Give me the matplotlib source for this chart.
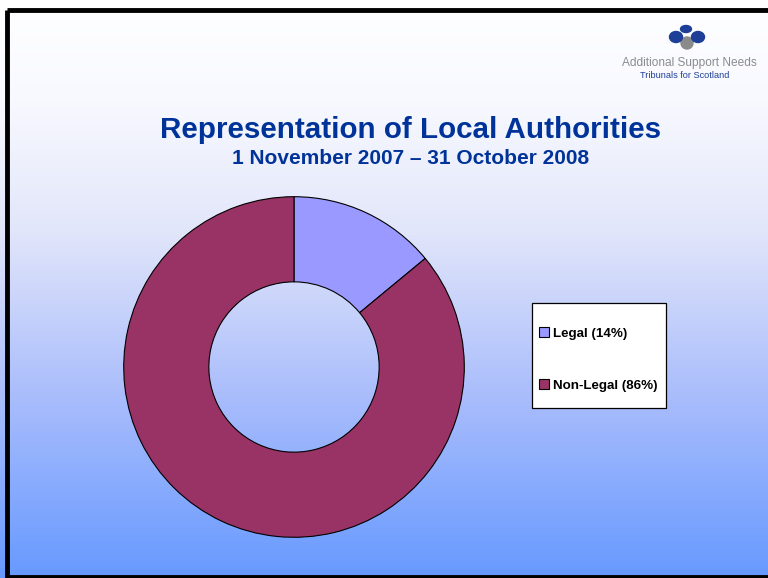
import numpy as np
import matplotlib
matplotlib.use("Agg")
import matplotlib.pyplot as plt
from matplotlib.patches import Circle, Ellipse, Rectangle

categories = ["Legal", "Non-Legal"]
shares = [14, 86]
colors = ["#9999ff", "#993366"]
title = "Representation of Local Authorities"
subtitle = "1 November 2007 \u2013 31 October 2008"

W, H = 768, 578
fig = plt.figure(figsize=(W / 100, H / 100), dpi=100)

# background gradient
bg = fig.add_axes([0, 0, 1, 1])
ys = np.arange(H)
stops_y = [0, 100, 230, 400, 578]
stops_c = np.array([[255, 255, 255], [248, 249, 255], [226, 230, 250],
                    [168, 188, 252], [102, 153, 255]]) / 255
grad = np.stack([np.interp(ys, stops_y, stops_c[:, k]) for k in range(3)], axis=-1)
grad = np.repeat(grad[:, None, :], 2, axis=1)
bg.imshow(grad, aspect="auto", extent=[0, W, H, 0])
bg.set_xlim(0, W)
bg.set_ylim(H, 0)
bg.axis("off")
# border
bg.plot([7, 7], [10, H], color="black", lw=3.5, solid_capstyle="butt")
bg.plot([7, W], [10, 10], color="black", lw=3.5, solid_capstyle="butt")
bg.plot([7, W], [576.5, 576.5], color="black", lw=3.5, solid_capstyle="butt")

# logo
bg.add_patch(Circle((687, 43), 6, color="#8a8a8a"))
bg.add_patch(Ellipse((676, 37), 13, 11, color="#1d3f97"))
bg.add_patch(Ellipse((698, 37), 13, 11, color="#1d3f97"))
bg.add_patch(Ellipse((686, 29), 11, 7, color="#1d3f97"))
bg.text(689, 63, "Additional Support Needs", fontsize=8.6, color="#8c8c8c",
        ha="center", va="center", family="Liberation Sans")
bg.text(685, 75, "Tribunals for Scotland", fontsize=6.6, color="#1d3f97",
        ha="center", va="center", family="Liberation Sans")

# titles
bg.text(411, 130, title, fontsize=21.3, fontweight="bold", color="#003399",
        ha="center", va="center", family="Liberation Sans")
bg.text(411, 159, subtitle, fontsize=15.0, fontweight="bold", color="#003399",
        ha="center", va="center", family="Liberation Sans")

# donut
cx, cy, r = 294, 367, 172
ax = fig.add_axes([(cx - r) / W, (H - cy - r) / H, 2 * r / W, 2 * r / H])
wedges, _ = ax.pie(shares, colors=colors, startangle=90, counterclock=False,
                   radius=1, wedgeprops=dict(width=0.5, edgecolor="black", linewidth=0.8))
ax.set_xlim(-1.01, 1.01)
ax.set_ylim(-1.01, 1.01)
ax.set_aspect("equal")
ax.axis("off")

# legend box
bg.add_patch(Rectangle((532, 303), 134, 105, facecolor="white", edgecolor="black", lw=0.9))
labels = [f"{c} ({s}%)" for c, s in zip(categories, shares)]
leg = fig.legend(wedges, labels, loc="upper left",
                 bbox_to_anchor=(532 / W, 1 - 320 / H),
                 frameon=False, prop=dict(family="Liberation Sans", weight="bold", size=9.6),
                 handlelength=0.75, handleheight=0.75, handletextpad=0.25,
                 labelspacing=2.95, borderpad=0.55, borderaxespad=0)

fig.savefig("out.png", dpi=100)
